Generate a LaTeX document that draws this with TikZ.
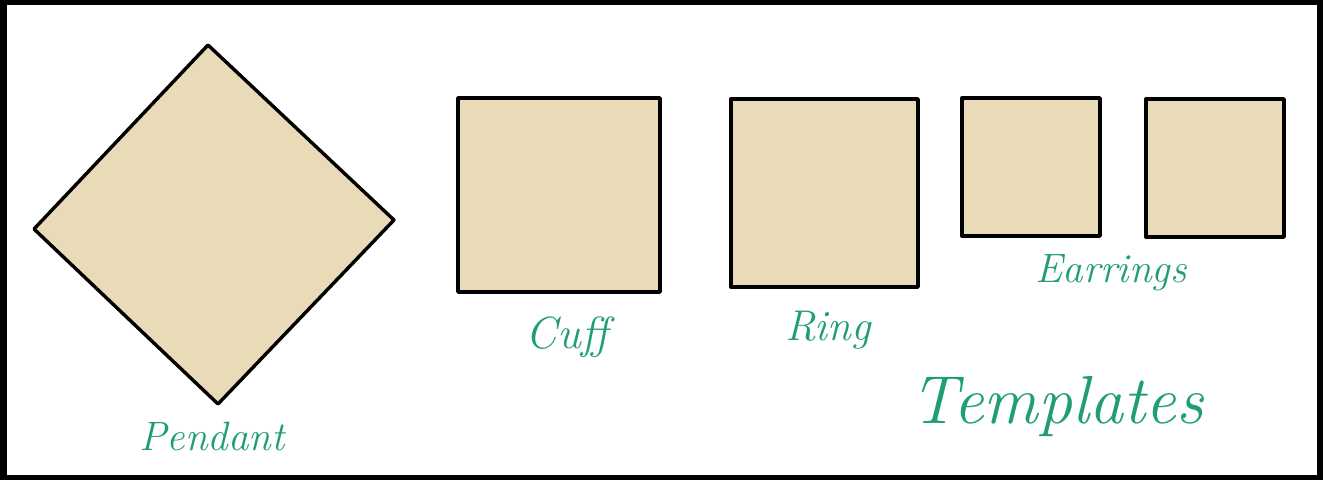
\documentclass[tikz,border=0pt]{standalone}
\usepackage{fontspec}
\definecolor{tan}{HTML}{EADBB8}
\definecolor{lbl}{HTML}{1F9E74}
\begin{document}
\begin{tikzpicture}[x=1pt,y=-1pt,
  piece/.style={draw=black,fill=tan,line width=3.4pt,line join=round},
  lab/.style={text=lbl,anchor=base,inner sep=0pt,font=\fontsize{41}{44}\selectfont\itshape},
  title/.style={text=lbl,anchor=base,inner sep=0pt,font=\fontsize{68}{72}\selectfont\itshape}]
\useasboundingbox (0,0) rectangle (1323,480);
\fill[black] (0,0) rectangle (1323,480);
\fill[white] (7,5) rectangle (1317,475);
% pendant
\coordinate (pt) at (208,45);
\coordinate (pr) at (394,220);
\coordinate (pb) at (218,404);
\coordinate (pl) at (34,229);
\draw[piece] (pt) -- (pr) -- (pb) -- (pl) -- cycle;
% cuff, ring, earrings
\draw[piece] (458,98) rectangle (660,292);
\draw[piece] (731,99) rectangle (918,287);
\draw[piece] (962,98) rectangle (1100,236);
\draw[piece] (1146,99) rectangle (1284,237);
% labels
\node[lab] (lpend) at (212,450) {Pendant};
\node[lab,font=\fontsize{45}{48}\selectfont\itshape] (lcuff) at (567,348) {Cuff};
\node[lab,font=\fontsize{43}{46}\selectfont\itshape] (lring) at (828,340) {Ring};
\node[lab] (lear) at (1111,282) {Earrings};
\node[title] (ltitle) at (1057,423) {Templates};
\end{tikzpicture}
\end{document}
